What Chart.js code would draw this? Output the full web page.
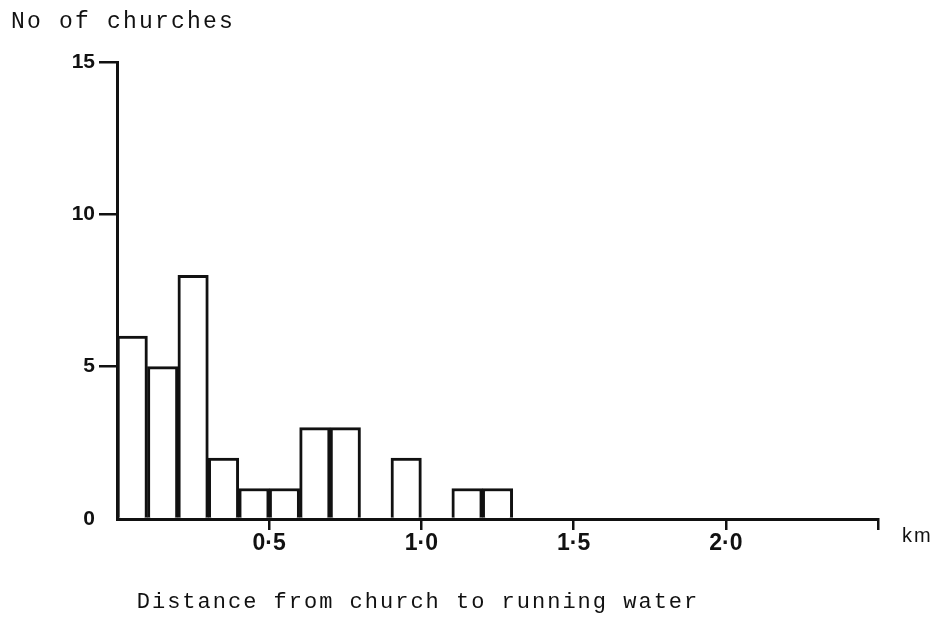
<!DOCTYPE html>
<html>
<head>
<meta charset="utf-8">
<script src="https://cdn.jsdelivr.net/npm/chart.js@4/dist/chart.umd.min.js"></script>
<style>
  html, body { margin: 0; padding: 0; background: #fff; }
  canvas { display: block; }
</style>
</head>
<body>
<canvas id="c" width="933" height="620"></canvas>
<script>
// Histogram: distance from each church to the nearest running water, 0.1 km bins
const binStarts = [0.0, 0.1, 0.2, 0.3, 0.4, 0.5, 0.6, 0.7, 0.8, 0.9, 1.0, 1.1, 1.2];
const churchCounts = [6, 5, 8, 2, 1, 1, 3, 3, 0, 2, 0, 1, 1];
const binWidth = 0.1;

const yTitle = 'No of churches';
const xTitle = 'Distance from church to running water';
const xUnit = 'km';

const INK = '#111';

// Typewriter-style axis captions drawn onto the canvas
const captions = {
  id: 'captions',
  afterDraw(chart) {
    const ctx = chart.ctx;
    const area = chart.chartArea;
    ctx.save();
    ctx.fillStyle = INK;
    ctx.textBaseline = 'middle';

    ctx.font = '23px "Liberation Mono"';
    ctx.letterSpacing = '2.2px';
    ctx.textAlign = 'left';
    ctx.fillText(yTitle, 11, 22);

    ctx.font = '22px "Liberation Mono"';
    ctx.letterSpacing = '2px';
    ctx.textAlign = 'center';
    ctx.fillText(xTitle, 418, 602);

    ctx.letterSpacing = '2px';
    ctx.font = '20px "Liberation Sans"';
    ctx.textAlign = 'left';
    ctx.fillText(xUnit, area.right + 24, area.bottom + 17);
    ctx.restore();
  }
};

const fmt = v => v.toFixed(1).replace('.', '\u00B7');

new Chart(document.getElementById('c'), {
  type: 'bar',
  data: {
    datasets: [{
      data: binStarts.map((s, i) => ({ x: s + binWidth / 2, y: churchCounts[i] })),
      backgroundColor: '#ffffff',
      borderColor: INK,
      borderWidth: { top: 3, left: 3, right: 3, bottom: 0 },
      borderSkipped: 'start',
      barPercentage: 1,
      categoryPercentage: 1
    }]
  },
  options: {
    responsive: false,
    devicePixelRatio: 1,
    animation: false,
    layout: { padding: { top: 62, left: 0, right: 55, bottom: 0 } },
    plugins: {
      legend: { display: false },
      tooltip: { enabled: false },
      title: { display: false }
    },
    scales: {
      x: {
        type: 'linear',
        min: 0,
        max: 2.5,
        offset: false,
        afterFit(scale) { scale.height = 101; },
        border: { display: true, color: INK, width: 3 },
        grid: {
          offset: false,
          drawOnChartArea: false,
          drawTicks: true,
          tickLength: 11,
          lineWidth: 2.5,
          color: c => (c.tick && c.tick.value === 0 ? 'rgba(0,0,0,0)' : INK)
        },
        ticks: {
          stepSize: 0.5,
          autoSkip: false,
          maxRotation: 0,
          padding: 0,
          color: INK,
          font: { family: '"Liberation Sans"', size: 23, weight: 'bold' },
          callback: v => (v === 0 || v === 2.5 ? '' : fmt(v))
        }
      },
      y: {
        min: 0,
        max: 15,
        afterFit(scale) { scale.width = 117; },
        border: { display: true, color: INK, width: 3 },
        grid: {
          drawOnChartArea: false,
          drawTicks: true,
          tickLength: 18,
          lineWidth: 2.5,
          color: c => (c.tick && c.tick.value === 0 ? 'rgba(0,0,0,0)' : INK)
        },
        ticks: {
          stepSize: 5,
          padding: 4,
          color: INK,
          font: { family: '"Liberation Sans"', size: 21, weight: 'bold' }
        }
      }
    }
  },
  plugins: [captions]
});
</script>
</body>
</html>
